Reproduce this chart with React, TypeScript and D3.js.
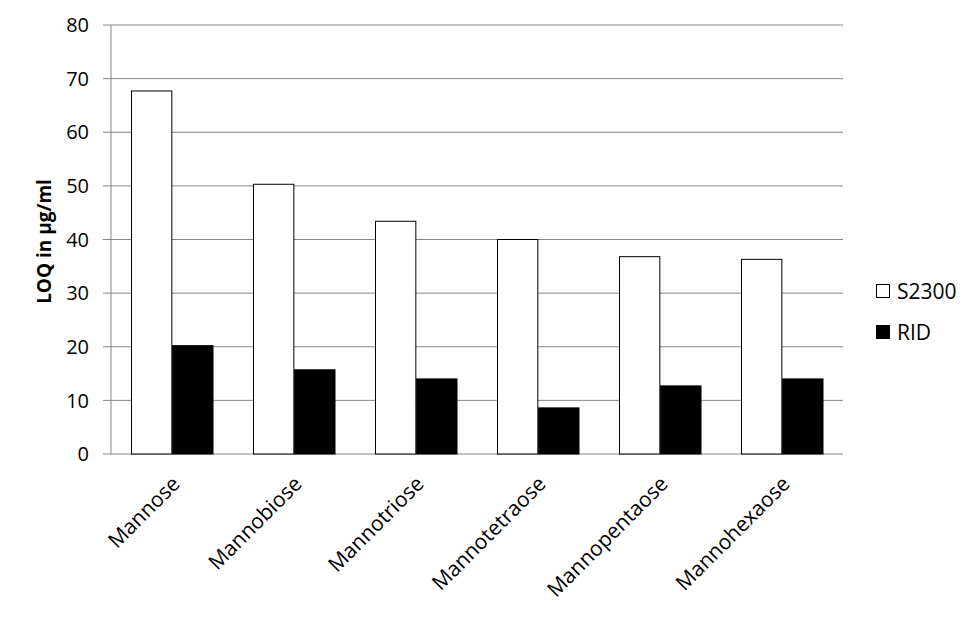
import * as d3 from 'd3';

const categories = ['Mannose', 'Mannobiose', 'Mannotriose', 'Mannotetraose', 'Mannopentaose', 'Mannohexaose'];
const seriesNames = ['S2300', 'RID'];
const s2300 = [67.7, 50.3, 43.4, 40.0, 36.8, 36.3];
const rid = [20.2, 15.7, 14.0, 8.6, 12.7, 14.0];
const yTicks = [0, 10, 20, 30, 40, 50, 60, 70, 80];

const width = 980;
const height = 623;
const left = 111;
const right = 843;
const top = 25;
const bottom = 454;
const font = "'Open Sans', 'Noto Sans', sans-serif";

export default function App() {
  const x = d3.scaleBand<string>().domain(categories).range([left, right]).paddingInner(0).paddingOuter(0);
  const y = d3.scaleLinear().domain([0, 80]).range([bottom, top]);
  const inner = d3.scaleBand<string>().domain(seriesNames).range([20.5, 122 - 20]).paddingInner(0.02);
  const fills = ['#ffffff', '#000000'];
  const series = [s2300, rid];

  return (
    <svg width={width} height={height} style={{ position: 'absolute', left: 0, top: 0 }} xmlns="http://www.w3.org/2000/svg">
      <rect width={width} height={height} fill="#fff" />
      {yTicks.map(t => (
        <g key={t}>
          <line x1={left - 8} x2={right} y1={y(t)} y2={y(t)} stroke="#868686" strokeWidth={1} />
          <text x={left - 22} y={y(t)} dy="0.36em" textAnchor="end" fontFamily={font} fontSize={20} fill="#000">
            {t}
          </text>
        </g>
      ))}
      <line x1={left} x2={left} y1={top} y2={bottom} stroke="#868686" strokeWidth={1} />
      {categories.map((c, i) => (
        <g key={c}>
          {seriesNames.map((s, j) => (
            <rect
              key={s}
              x={x(c)! + inner(s)!}
              y={y(series[j][i])}
              width={inner.bandwidth()}
              height={y(0) - y(series[j][i])}
              fill={fills[j]}
              stroke="#000"
              strokeWidth={1}
            />
          ))}
          <text
            transform={`translate(${x(c)! + x.bandwidth() / 2 - 2},${bottom + 20}) rotate(-45)`}
            textAnchor="end"
            dy="0.75em"
            fontFamily={font}
            fontSize={21}
            fill="#000"
          >
            {c}
          </text>
        </g>
      ))}
      <text
        transform={`translate(44,${(top + bottom) / 2 + 2}) rotate(-90)`}
        textAnchor="middle"
        dy="0.35em"
        fontFamily={font}
        fontSize={19}
        fontWeight="bold"
        fill="#000"
      >
        LOQ in µg/ml
      </text>
      {seriesNames.map((s, j) => (
        <g key={s} transform={`translate(876,${291 + j * 41})`}>
          <rect x={0.5} y={-6.5} width={13} height={13} fill={fills[j]} stroke="#000" strokeWidth={1} />
          <text x={21} y={0} dy="0.36em" fontFamily={font} fontSize={21} fill="#000">
            {s}
          </text>
        </g>
      ))}
    </svg>
  );
}
